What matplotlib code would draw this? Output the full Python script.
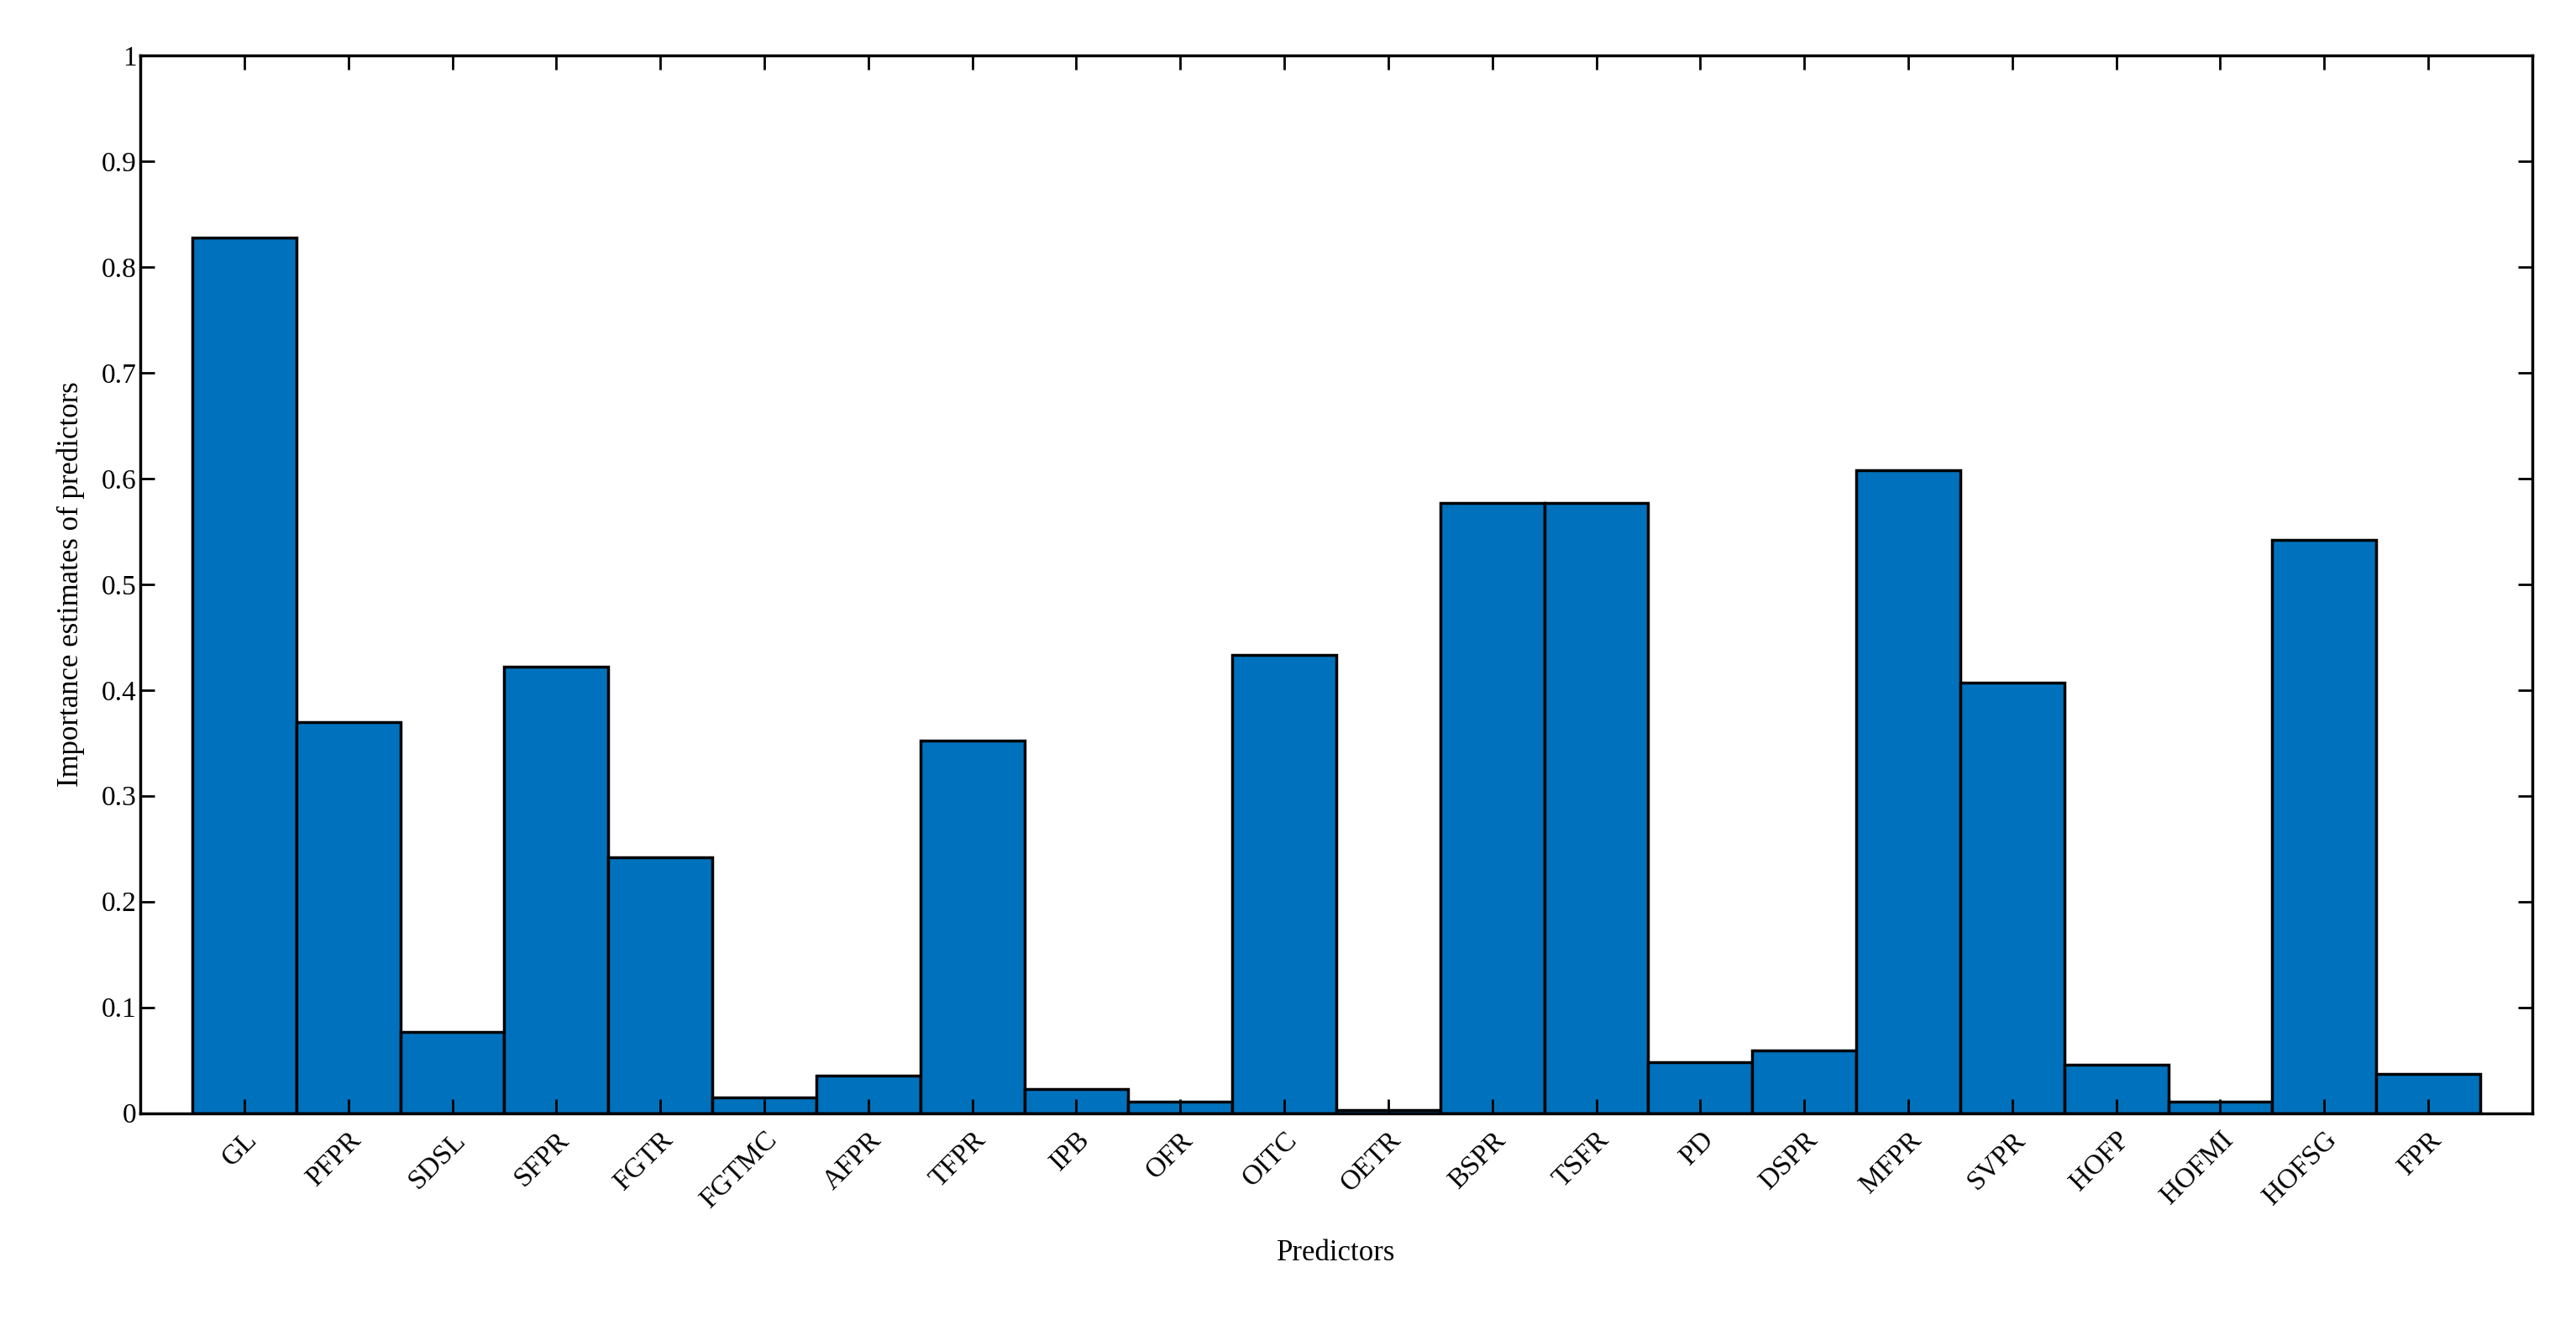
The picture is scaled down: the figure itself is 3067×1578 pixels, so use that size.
import matplotlib
matplotlib.use("Agg")
from matplotlib import pyplot as plt

predictors = ['GL', 'PFPR', 'SDSL', 'SFPR', 'FGTR', 'FGTMC', 'AFPR', 'TFPR', 'IPB', 'OFR', 'OITC',
              'OETR', 'BSPR', 'TSFR', 'PD', 'DSPR', 'MFPR', 'SVPR', 'HOFP', 'HOFMI', 'HOFSG', 'FPR']
importance = [0.828, 0.370, 0.077, 0.422, 0.242, 0.015, 0.035, 0.352, 0.023, 0.011, 0.433,
              0.003, 0.577, 0.577, 0.048, 0.059, 0.608, 0.407, 0.046, 0.011, 0.542, 0.037]
yticks = [0, 0.1, 0.2, 0.3, 0.4, 0.5, 0.6, 0.7, 0.8, 0.9, 1]
ytick_labels = ['0', '0.1', '0.2', '0.3', '0.4', '0.5', '0.6', '0.7', '0.8', '0.9', '1']

plt.rcParams['font.family'] = ['Liberation Serif', 'DejaVu Serif']
fig = plt.figure(figsize=(30.67, 15.78), dpi=100)
ax = fig.add_axes([0.0545, 0.16, 0.9285, 0.798])

x = range(1, len(predictors) + 1)
ax.bar(x, importance, width=1.0, color='#0072BD', edgecolor='black', linewidth=2.5)
ax.set_xlim(0, len(predictors) + 1)
ax.set_ylim(0, 1)
ax.set_xticks(list(x))
ax.set_xticklabels(predictors, rotation=45, ha='right', rotation_mode='anchor', fontsize=24)
ax.set_yticks(yticks)
ax.set_yticklabels(ytick_labels, fontsize=24)
ax.tick_params(direction='in', length=12, width=2, top=True, right=True)
ax.tick_params(axis='x', pad=12)
for s in ax.spines.values():
    s.set_linewidth(2.5)
ax.set_xlabel('Predictors', fontsize=25, labelpad=22)
ax.set_ylabel('Importance estimates of predictors', fontsize=25, labelpad=14)

fig.savefig('out.png')
